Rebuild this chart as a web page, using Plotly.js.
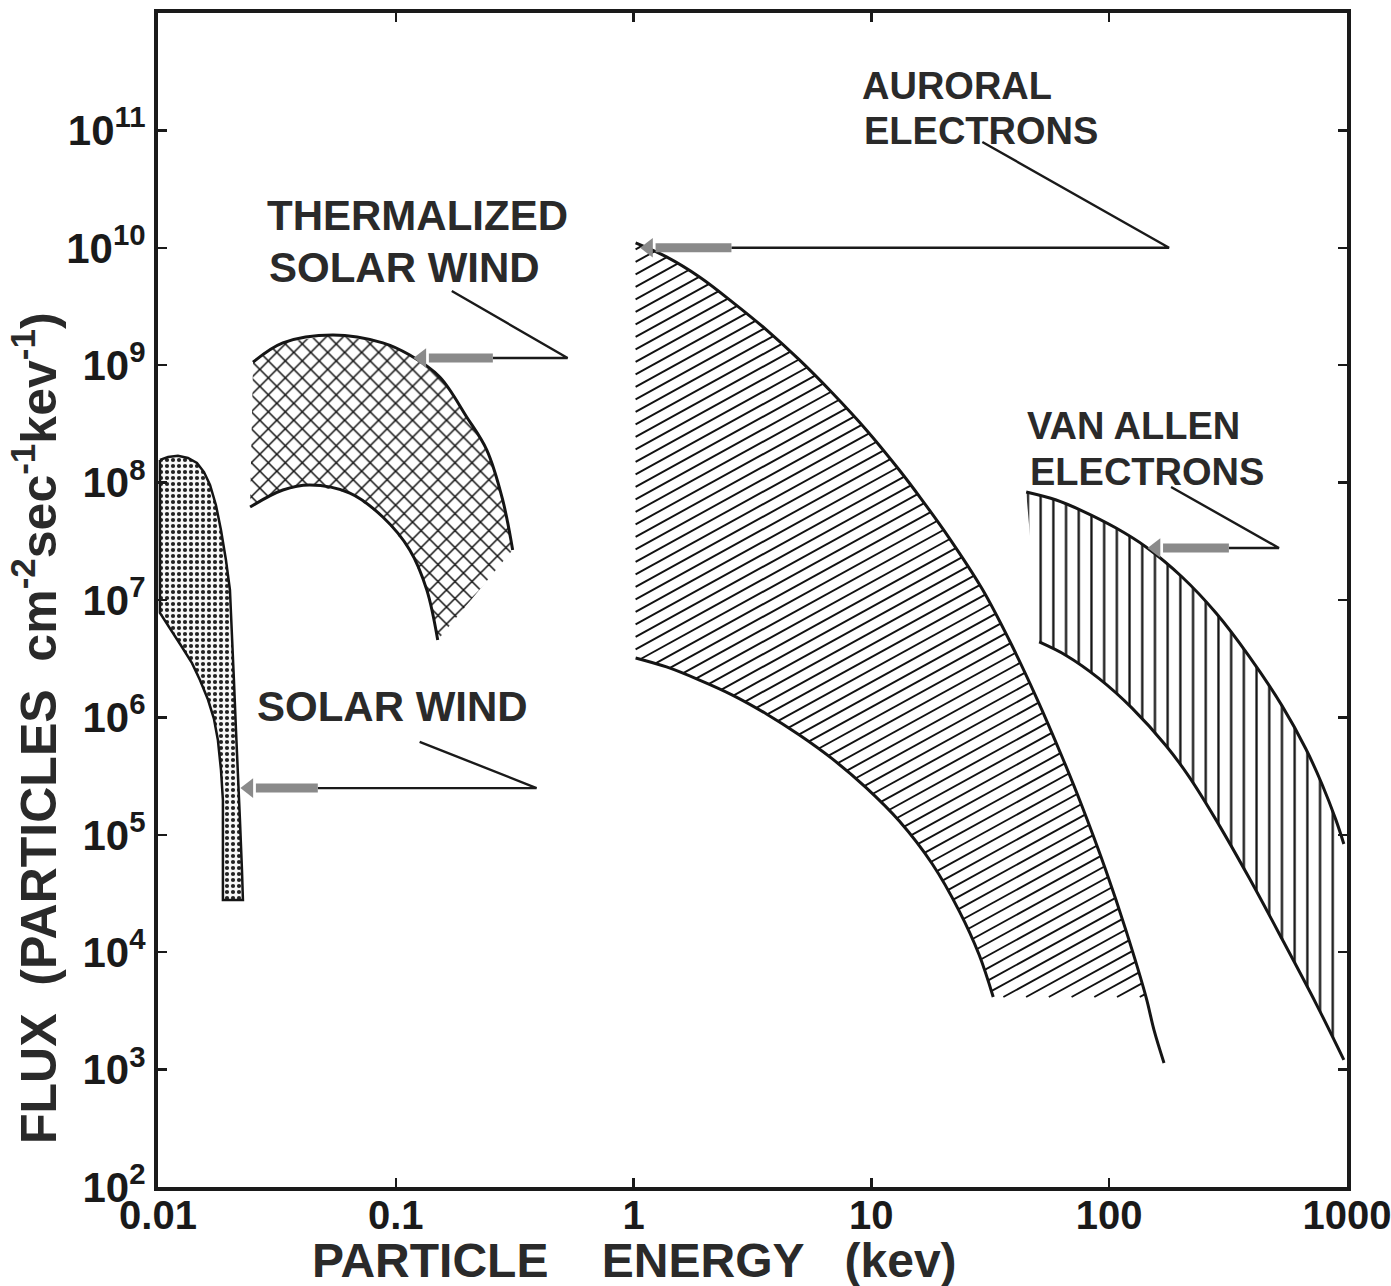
<!DOCTYPE html>
<html>
<head>
<meta charset="utf-8">
<script src="https://cdn.plot.ly/plotly-3.0.1.min.js"></script>
<style>html,body{margin:0;padding:0;background:#fff;}</style>
</head>
<body>
<div id="chart" style="width:1391px;height:1286px;"></div>
<script>
// ---- Data (energy in keV, flux in particles cm^-2 s^-1 keV^-1) ----
// Solar wind (dotted)
const swOuterE = [0.01019, 0.01102, 0.01213, 0.01337, 0.01458, 0.01561, 0.01655, 0.01752, 0.01840, 0.01931, 0.02007, 0.02047, 0.02086, 0.02128, 0.02168, 0.02211, 0.02255, 0.02276];
const swOuterF = [1.56e8, 1.65e8, 1.69e8, 1.62e8, 1.47e8, 1.23e8, 9.55e7, 6.45e7, 3.95e7, 2.19e7, 1.22e7, 5.55e6, 2.08e6, 7.82e5, 3.57e5, 1.34e5, 5.01e4, 2.79e4];
const swInnerE = [0.01875, 0.01875, 0.01875, 0.01840, 0.01786, 0.01718, 0.01622, 0.01501, 0.01390, 0.01261, 0.01123, 0.01019];
const swInnerF = [2.79e4, 7.43e4, 1.98e5, 3.57e5, 6.42e5, 9.77e5, 1.42e6, 2.08e6, 2.90e6, 3.98e6, 5.77e6, 7.75e6];
// Thermalized solar wind (cross-hatched)
const tmTopE = [0.0251, 0.0335, 0.0544, 0.0882, 0.1145, 0.1531, 0.1987, 0.2412, 0.2816, 0.3101];
const tmTopF = [1.06e9, 1.55e9, 1.81e9, 1.55e9, 1.22e9, 7.93e8, 3.62e8, 1.90e8, 7.11e7, 2.67e7];
const tmLowE = [0.0244, 0.0335, 0.0435, 0.0641, 0.0882, 0.1145, 0.1350, 0.1501];
const tmLowF = [6.20e7, 8.65e7, 9.55e7, 8.15e7, 5.09e7, 2.67e7, 1.22e7, 4.56e6];
// Auroral electrons (diagonal hatch)
const auUpE = [1.02, 1.376, 1.894, 2.606, 3.622, 4.984, 6.858, 9.528, 13.11, 16.23, 21.27, 29.27, 38.0, 49.35, 63.46, 76.3, 97.1, 117.9, 143];
const auUpF = [1.10e10, 8.36e9, 5.64e9, 3.45e9, 2.00e9, 1.11e9, 5.80e8, 2.81e8, 1.28e8, 7.24e7, 3.37e7, 1.24e7, 4.56e6, 1.49e6, 4.60e5, 1.83e5, 4.92e4, 1.52e4, 4.15e3];
const auTailE = [143, 154.5, 170.2];
const auTailF = [4.15e3, 2.17e3, 1.14e3];
const auLowE = [1.02, 1.376, 1.894, 2.606, 3.622, 4.984, 6.858, 9.528, 13.11, 18.05, 23.43, 28.43, 32.56];
const auLowF = [3.21e6, 2.69e6, 2.08e6, 1.55e6, 1.07e6, 7.08e5, 4.43e5, 2.51e5, 1.31e5, 5.64e4, 2.24e4, 9.46e3, 4.15e3];
// Van Allen electrons (vertical hatch)
const vaUpE = [44.8, 59.9, 77.0, 107.0, 143.0, 202.7, 281.6, 387.5, 533.2, 672.5, 785.3, 899.1, 971];
const vaUpF = [8.32e7, 7.11e7, 5.75e7, 4.10e7, 2.83e7, 1.57e7, 7.75e6, 3.33e6, 1.26e6, 5.38e5, 2.71e5, 1.34e5, 8.36e4];
const vaLowE = [50.8, 65.95, 90.8, 124.9, 173.6, 216.8, 281.6, 387.5, 533.2, 740.8, 971];
const vaLowF = [4.39e6, 3.37e6, 2.14e6, 1.20e6, 5.74e5, 3.13e5, 1.34e5, 4.32e4, 1.30e4, 3.67e3, 1.21e3];

// Callout arrows: [solar wind, thermalized, auroral, van allen]
const calloutTipE  = [0.0221, 0.118, 1.06, 144.4];
const calloutTipF  = [2.5e5, 1.15e9, 1.0e10, 2.77e7];
const calloutHeadE = [0.047, 0.256, 2.58, 319];
const calloutTailE = [0.391, 0.528, 178.7, 518];
const calloutLeadE = [0.126, 0.172, 29.3, 182.2];
const calloutLeadF = [6.2e5, 4.29e9, 7.96e10, 9.18e7];

// Labels
const regionLabels = ['AURORAL', 'ELECTRONS', 'THERMALIZED', 'SOLAR WIND', 'VAN ALLEN', 'ELECTRONS', 'SOLAR WIND'];
const labelX = [0.5904, 0.5921, 0.0900, 0.0917, 0.7292, 0.7317, 0.0816];
const labelY = [0.9378, 0.8995, 0.8279, 0.7828, 0.6482, 0.6090, 0.4097];
const labelSize = [38, 38, 42, 42, 38, 38, 42];

// Ticks
const xTickVals = [0.01, 0.1, 1, 10, 100, 1000];
const xTickText = ['0.01', '0.1', '1', '10', '100', '1000'];
const yExps = [2, 3, 4, 5, 6, 7, 8, 9, 10, 11];
const yTickVals = yExps.map(e => Math.pow(10, e));
const yTickText = yExps.map(e => '10<sup>' + e + '</sup>');

// ---- Build ----
const FONT = 'Liberation Sans, Arial, sans-serif';
const INK = '#151515';
const X_RANGE = [-2, 3.0005], Y_RANGE = [2, 12];
const MARGIN = {l: 158, r: 44, t: 13, b: 99};
const W = 1391, H = 1286;
const PXX = (W - MARGIN.l - MARGIN.r) / (X_RANGE[1] - X_RANGE[0]);   // px per decade (x)
const PXY = (H - MARGIN.t - MARGIN.b) / (Y_RANGE[1] - Y_RANGE[0]);   // px per decade (y)
const rev = a => a.slice().reverse();
const base = {hoverinfo: 'skip', showlegend: false};
const smooth = {shape: 'spline', smoothing: 1.0};

// Shallow hatching clipped to a polygon given in data values
function hatchLines(polyE, polyF, slope, spacing) {
  const U = polyE.map(e => (Math.log10(e) - X_RANGE[0]) * PXX);
  const V = polyF.map(f => (Math.log10(f) - Y_RANGE[0]) * PXY);
  const n = U.length;
  let cmin = Infinity, cmax = -Infinity;
  for (let i = 0; i < n; i++) { const c = V[i] - slope * U[i]; cmin = Math.min(cmin, c); cmax = Math.max(cmax, c); }
  const xs = [], ys = [];
  for (let c = Math.ceil(cmin / spacing) * spacing; c <= cmax; c += spacing) {
    const hits = [];
    for (let i = 0; i < n; i++) {
      const j = (i + 1) % n;
      const f1 = V[i] - slope * U[i] - c, f2 = V[j] - slope * U[j] - c;
      if ((f1 > 0) !== (f2 > 0)) { const t = f1 / (f1 - f2); hits.push(U[i] + t * (U[j] - U[i])); }
    }
    hits.sort((a, b) => a - b);
    for (let k = 0; k + 1 < hits.length; k += 2) {
      [hits[k], hits[k + 1]].forEach(u => {
        xs.push(Math.pow(10, u / PXX + X_RANGE[0]));
        ys.push(Math.pow(10, (slope * u + c) / PXY + Y_RANGE[0]));
      });
      xs.push(null); ys.push(null);
    }
  }
  return {x: xs, y: ys};
}

const traces = [];
// Solar wind fill + outline
traces.push(Object.assign({
  x: swOuterE.concat(swInnerE, [swOuterE[0]]),
  y: swOuterF.concat(swInnerF, [swOuterF[0]]),
  mode: 'lines', fill: 'toself', fillcolor: 'rgba(0,0,0,0)',
  fillpattern: {shape: '.', size: 6, solidity: 0.38, fgcolor: '#222', bgcolor: '#f7f7f7'},
  line: {color: INK, width: 2.5}
}, base));
// Thermalized fill
traces.push(Object.assign({
  x: tmTopE.concat(rev(tmLowE)), y: tmTopF.concat(rev(tmLowF)),
  mode: 'none', fill: 'toself', fillcolor: 'rgba(0,0,0,0)',
  fillpattern: {shape: 'x', size: 12, solidity: 0.24, fgcolor: '#111', bgcolor: 'rgba(255,255,255,0)'}
}, base));
traces.push(Object.assign({x: tmTopE, y: tmTopF, mode: 'lines', line: Object.assign({color: INK, width: 3}, smooth)}, base));
traces.push(Object.assign({x: tmLowE, y: tmLowF, mode: 'lines', line: Object.assign({color: INK, width: 3}, smooth)}, base));
// Auroral hatching (shallow diagonal lines)
const auHatch = hatchLines(auUpE.concat(rev(auLowE)), auUpF.concat(rev(auLowF)), 0.55, 12.5);
traces.push(Object.assign({x: auHatch.x, y: auHatch.y, mode: 'lines', connectgaps: false, line: {color: '#111', width: 1.9}}, base));
traces.push(Object.assign({x: auUpE.concat(auTailE.slice(1)), y: auUpF.concat(auTailF.slice(1)), mode: 'lines', line: Object.assign({color: INK, width: 3}, smooth)}, base));
traces.push(Object.assign({x: auLowE, y: auLowF, mode: 'lines', line: Object.assign({color: INK, width: 3}, smooth)}, base));
// Van Allen fill
traces.push(Object.assign({
  x: vaUpE.concat(rev(vaLowE)), y: vaUpF.concat(rev(vaLowF)),
  mode: 'none', fill: 'toself', fillcolor: 'rgba(0,0,0,0)',
  fillpattern: {shape: '|', size: 12.7, solidity: 0.18, fgcolor: '#111', bgcolor: 'rgba(255,255,255,0)'}
}, base));
traces.push(Object.assign({x: vaUpE, y: vaUpF, mode: 'lines', line: Object.assign({color: INK, width: 3}, smooth)}, base));
traces.push(Object.assign({x: vaLowE, y: vaLowF, mode: 'lines', line: Object.assign({color: INK, width: 3}, smooth)}, base));

// Callouts: leader + shaft (black), grey barb
const shiftE = (e, px) => e * Math.pow(10, px / PXX);
for (let i = 0; i < calloutTipE.length; i++) {
  traces.push(Object.assign({
    x: [calloutLeadE[i], calloutTailE[i], calloutHeadE[i]],
    y: [calloutLeadF[i], calloutTipF[i], calloutTipF[i]],
    mode: 'lines', line: {color: '#1a1a1a', width: 2.4}
  }, base));
  traces.push(Object.assign({
    x: [calloutHeadE[i], shiftE(calloutTipE[i], 16)],
    y: [calloutTipF[i], calloutTipF[i]],
    mode: 'lines', line: {color: '#8a8a8a', width: 9}
  }, base));
  traces.push(Object.assign({
    x: [shiftE(calloutTipE[i], 9)], y: [calloutTipF[i]],
    mode: 'markers', marker: {symbol: 'triangle-left', size: 17, color: '#8a8a8a', line: {width: 0}}
  }, base));
}

// Annotations (text labels and axis titles)
const annotations = [];
for (let i = 0; i < regionLabels.length; i++) {
  annotations.push({x: labelX[i], y: labelY[i], xref: 'paper', yref: 'paper', xanchor: 'left', yanchor: 'middle',
    text: regionLabels[i], showarrow: false, font: {family: FONT, size: labelSize[i], color: '#2a2a2a', weight: 'bold'}});
}
annotations.push({x: 0.401, y: -0.063, xref: 'paper', yref: 'paper', xanchor: 'center', yanchor: 'middle',
  text: 'PARTICLE\u00A0\u00A0\u00A0\u00A0ENERGY\u00A0\u00A0\u00A0(kev)', showarrow: false,
  font: {family: FONT, size: 48, color: '#2a2a2a', weight: 'bold'}});
annotations.push({x: -0.1034, y: 0.391, xref: 'paper', yref: 'paper', xanchor: 'center', yanchor: 'middle', textangle: -90,
  text: 'FLUX\u00A0\u00A0(PARTICLES\u00A0\u00A0cm<sup>-2</sup>sec<sup>-1</sup>kev<sup>-1</sup>)', showarrow: false,
  font: {family: FONT, size: 50, color: '#2a2a2a', weight: 'bold'}});

const axisCommon = {
  type: 'log', showgrid: false, zeroline: false, showline: true, linecolor: '#1a1a1a', linewidth: 4,
  mirror: 'ticks', ticks: 'inside', ticklen: 9, tickwidth: 2.5, tickcolor: '#1a1a1a',
  tickmode: 'array', ticklabeloverflow: 'allow'
};

const layout = {
  width: W, height: H,
  margin: MARGIN,
  paper_bgcolor: '#ffffff', plot_bgcolor: '#ffffff',
  showlegend: false,
  xaxis: Object.assign({}, axisCommon, {range: X_RANGE, tickvals: xTickVals, ticktext: xTickText, ticklabelstandoff: -10,
    tickfont: {family: FONT, size: 40, color: '#1a1a1a', weight: 'bold'}}),
  yaxis: Object.assign({}, axisCommon, {range: Y_RANGE, tickvals: yTickVals, ticktext: yTickText, ticklabelstandoff: 0,
    tickfont: {family: FONT, size: 42, color: '#1a1a1a', weight: 'bold'}}),
  annotations: annotations
};

Plotly.newPlot('chart', traces, layout, {staticPlot: true, displayModeBar: false});
</script>
</body>
</html>
